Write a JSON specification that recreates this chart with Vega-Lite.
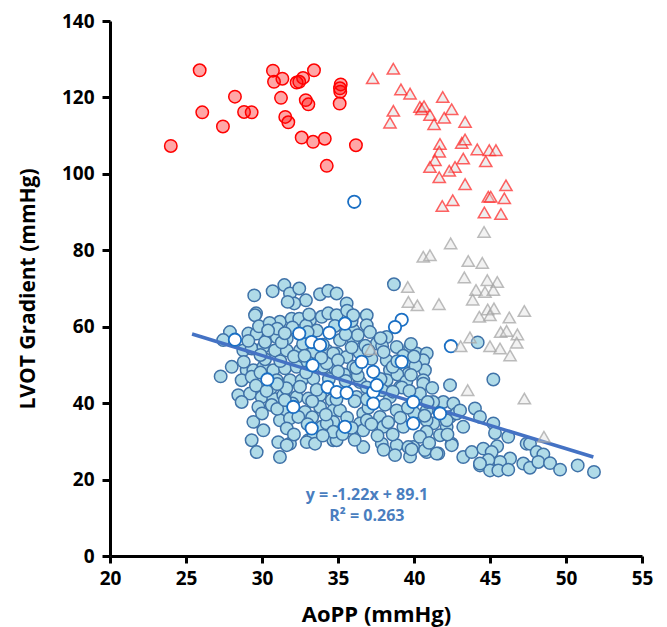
{
"$schema": "https://vega.github.io/schema/vega-lite/v6.json",
"width": 532,
"height": 535,
"autosize": {"type": "none"},
"padding": {"left": 110, "top": 21, "right": 25, "bottom": 71},
"background": "white",
"config": {"view": {"stroke": null}, "font": "Open Sans"},
"datasets": {
"blue": [
{"x":29.49,"y":68.2},{"x":30.70,"y":69.3},{"x":31.47,"y":70.9},{"x":31.84,"y":68.7},{"x":32.45,"y":70.0},{"x":32.89,"y":66.9},{"x":32.12,"y":66.1},{"x":31.69,"y":66.5},{"x":33.82,"y":68.5},{"x":34.36,"y":69.4},{"x":34.91,"y":68.7},
{"x":29.61,"y":63.5},{"x":29.54,"y":63.0},{"x":31.18,"y":61.3},{"x":31.95,"y":62.1},{"x":32.45,"y":62.1},{"x":33.16,"y":61.7},{"x":33.93,"y":62.6},{"x":34.36,"y":63.5},{"x":34.91,"y":63.0},
{"x":27.89,"y":58.6},{"x":27.45,"y":56.5},{"x":29.10,"y":58.2},{"x":29.65,"y":58.2},{"x":30.41,"y":57.3},{"x":30.97,"y":57.3},{"x":31.63,"y":56.9},
{"x":28.77,"y":53.8},{"x":29.32,"y":54.3},{"x":30.09,"y":54.7},{"x":30.86,"y":53.8},{"x":31.63,"y":53.8},{"x":32.50,"y":53.8},{"x":33.38,"y":53.4},{"x":34.26,"y":53.8},{"x":34.91,"y":53.0},
{"x":28.01,"y":49.5},{"x":27.28,"y":47.0},{"x":28.99,"y":48.6},{"x":29.43,"y":48.6},{"x":30.09,"y":49.5},{"x":30.74,"y":48.6},{"x":31.51,"y":49.1},{"x":32.28,"y":49.5},{"x":34.03,"y":49.5},{"x":34.80,"y":49.1},
{"x":28.66,"y":46.0},{"x":29.32,"y":46.9},{"x":30.97,"y":46.0},{"x":31.84,"y":46.0},{"x":32.61,"y":46.0},{"x":33.38,"y":46.4},
{"x":28.44,"y":42.1},{"x":29.21,"y":42.5},{"x":29.98,"y":41.6},{"x":30.74,"y":41.2},{"x":31.40,"y":42.1},{"x":32.28,"y":41.6},{"x":33.05,"y":41.2},{"x":33.82,"y":42.1},{"x":34.59,"y":40.8},
{"x":28.66,"y":40.3},{"x":29.76,"y":39.0},{"x":30.64,"y":39.5},{"x":31.51,"y":37.7},{"x":32.83,"y":37.7},{"x":33.82,"y":39.0},{"x":34.69,"y":38.1},
{"x":29.43,"y":35.1},{"x":30.09,"y":32.9},{"x":31.18,"y":35.5},{"x":31.84,"y":36.0},{"x":32.39,"y":36.4},{"x":33.93,"y":33.8},{"x":34.69,"y":35.1},
{"x":29.32,"y":30.3},{"x":29.65,"y":27.2},{"x":31.07,"y":29.8},{"x":31.18,"y":25.9},{"x":31.84,"y":29.4},{"x":33.05,"y":30.3},{"x":33.38,"y":31.2},{"x":34.69,"y":30.3},
{"x":38.68,"y":71.1},{"x":35.57,"y":66.1},{"x":36.89,"y":63.0},{"x":36.89,"y":60.4},{"x":36.01,"y":59.1},{"x":38.20,"y":57.3},{"x":37.55,"y":55.6},{"x":38.86,"y":54.7},{"x":39.74,"y":54.7},{"x":40.18,"y":53.0},{"x":40.84,"y":53.0},
{"x":36.01,"y":56.5},{"x":35.13,"y":56.5},{"x":34.69,"y":53.0},{"x":35.57,"y":52.1},{"x":38.20,"y":51.2},{"x":39.95,"y":50.4},{"x":40.61,"y":51.2},{"x":40.72,"y":48.6},{"x":36.01,"y":49.5},{"x":34.26,"y":50.4},{"x":38.42,"y":48.6},{"x":39.63,"y":47.7},
{"x":36.45,"y":45.5},{"x":38.20,"y":46.0},{"x":39.08,"y":44.2},{"x":40.61,"y":46.0},{"x":42.37,"y":44.7},{"x":36.22,"y":41.6},{"x":38.42,"y":41.6},{"x":40.39,"y":41.6},{"x":41.93,"y":40.3},{"x":42.59,"y":39.9},
{"x":35.13,"y":38.1},{"x":36.66,"y":37.3},{"x":37.76,"y":36.4},{"x":38.86,"y":38.1},{"x":40.84,"y":38.1},{"x":42.37,"y":36.4},{"x":34.26,"y":34.7},{"x":36.45,"y":34.7},{"x":37.98,"y":33.8},{"x":39.30,"y":33.8},{"x":41.27,"y":34.7},{"x":42.15,"y":33.8},
{"x":34.91,"y":30.3},{"x":36.66,"y":28.5},{"x":37.88,"y":29.4},{"x":38.86,"y":29.0},{"x":39.95,"y":28.5},{"x":40.84,"y":27.2},{"x":41.60,"y":26.8},{"x":42.48,"y":29.4},{"x":38.75,"y":26.4},{"x":39.74,"y":26.0},
{"x":44.19,"y":55.9},{"x":45.22,"y":46.2},{"x":40.61,"y":45.1},{"x":40.39,"y":42.5},{"x":42.81,"y":37.3},{"x":44.01,"y":38.6},{"x":44.34,"y":36.4},{"x":45.22,"y":34.7},{"x":46.20,"y":31.2},{"x":47.41,"y":29.4},{"x":43.24,"y":33.8},{"x":42.15,"y":35.5},
{"x":41.26,"y":40.3},{"x":43.03,"y":38.1},{"x":40.83,"y":35.5},{"x":40.83,"y":32.5},{"x":41.71,"y":31.6},{"x":42.48,"y":29.0},{"x":40.72,"y":27.7},{"x":41.49,"y":26.8},{"x":43.24,"y":25.9},{"x":43.80,"y":27.2},{"x":44.56,"y":28.1},{"x":45.33,"y":32.2},
{"x":45.47,"y":28.7},{"x":45.11,"y":27.2},{"x":46.32,"y":25.5},{"x":45.66,"y":24.6},{"x":44.89,"y":25.1},{"x":44.34,"y":23.7},{"x":45.00,"y":22.4},{"x":45.55,"y":22.4},{"x":46.20,"y":22.6},{"x":47.19,"y":24.2},{"x":47.63,"y":23.1},{"x":47.63,"y":29.4},
{"x":48.07,"y":27.2},{"x":48.51,"y":26.6},{"x":48.18,"y":24.6},{"x":48.95,"y":24.3},{"x":49.61,"y":22.6},{"x":50.77,"y":23.7},{"x":51.84,"y":22.0},
{"x":31.63,"y":33.4},{"x":32.94,"y":29.8},{"x":33.49,"y":29.4},{"x":34.69,"y":32.5},{"x":36.66,"y":32.9},{"x":39.63,"y":28.5},{"x":40.39,"y":31.2},{"x":31.63,"y":29.0},{"x":39.84,"y":27.9},{"x":44.34,"y":24.2},
{"x":29.8,"y":60.1},{"x":30.5,"y":61.0},{"x":31.0,"y":59.5},{"x":32.0,"y":59.8},{"x":32.9,"y":60.3},{"x":33.6,"y":59.0},{"x":34.8,"y":60.2},{"x":35.9,"y":61.5},{"x":36.3,"y":57.8},{"x":37.1,"y":58.6},{"x":37.9,"y":55.0},
{"x":30.2,"y":51.5},{"x":31.2,"y":51.0},{"x":32.1,"y":52.2},{"x":33.0,"y":50.8},{"x":33.9,"y":51.9},{"x":35.0,"y":51.2},{"x":36.4,"y":53.3},{"x":37.2,"y":51.6},{"x":38.0,"y":53.4},{"x":39.3,"y":52.4},{"x":40.1,"y":49.8},
{"x":29.6,"y":44.6},{"x":30.6,"y":44.0},{"x":31.6,"y":43.9},{"x":32.5,"y":44.3},{"x":33.6,"y":43.5},{"x":34.4,"y":46.3},{"x":35.4,"y":47.5},{"x":36.3,"y":47.2},{"x":36.9,"y":44.1},{"x":37.9,"y":43.4},{"x":38.9,"y":47.5},{"x":39.5,"y":45.7},{"x":41.2,"y":44.0},
{"x":30.0,"y":37.3},{"x":31.0,"y":38.5},{"x":32.0,"y":39.9},{"x":33.3,"y":36.3},{"x":34.2,"y":37.0},{"x":35.6,"y":36.2},{"x":36.1,"y":40.5},{"x":37.0,"y":38.8},{"x":38.1,"y":39.6},{"x":39.1,"y":36.2},{"x":40.0,"y":37.5},
{"x":28.8,"y":50.8},{"x":29.1,"y":56.3},{"x":35.5,"y":45.8},{"x":38.6,"y":49.5},{"x":39.8,"y":55.5},{"x":36.8,"y":55.0},{"x":32.7,"y":55.5},{"x":31.3,"y":55.9},{"x":30.2,"y":56.0},{"x":29.9,"y":48.0},{"x":35.6,"y":64.2},{"x":39.2,"y":44.1},{"x":36.9,"y":35.5},{"x":35.3,"y":31.9},{"x":37.6,"y":31.5},{"x":38.6,"y":31.8},
{"x":30.4,"y":59.0},{"x":31.5,"y":58.3},{"x":33.0,"y":58.6},{"x":35.5,"y":58.0},{"x":37.8,"y":57.0},{"x":33.1,"y":63.2},{"x":36.0,"y":63.0},{"x":29.9,"y":52.6},{"x":32.8,"y":52.4},{"x":34.0,"y":55.3},{"x":35.9,"y":54.6},{"x":37.0,"y":53.8},{"x":38.9,"y":51.0},{"x":40.0,"y":52.2},
{"x":31.0,"y":45.0},{"x":32.9,"y":48.0},{"x":35.0,"y":48.3},{"x":36.2,"y":49.2},{"x":37.8,"y":46.3},{"x":39.8,"y":47.4},{"x":30.3,"y":43.2},{"x":33.3,"y":40.5},{"x":34.9,"y":41.0},{"x":36.9,"y":41.0},{"x":38.6,"y":43.0},{"x":39.7,"y":43.2},{"x":40.9,"y":40.3},{"x":31.5,"y":40.8},
{"x":33.0,"y":34.5},{"x":35.9,"y":33.5},{"x":37.2,"y":34.5},{"x":38.3,"y":35.0},{"x":39.6,"y":38.8},{"x":40.7,"y":36.7},{"x":32.1,"y":31.8},{"x":34.0,"y":31.5},{"x":36.1,"y":30.4},{"x":38.0,"y":27.8},{"x":41.0,"y":29.6},{"x":42.2,"y":31.8}
],
"white": [
{"x":36.07,"y":92.7},{"x":39.19,"y":61.8},{"x":38.75,"y":59.9},{"x":42.43,"y":54.9},{"x":28.22,"y":56.6},{"x":32.45,"y":58.2},{"x":33.27,"y":56.0},{"x":33.82,"y":55.2},{"x":34.43,"y":58.4},{"x":33.33,"y":49.9},{"x":30.35,"y":46.2},{"x":34.32,"y":44.2},{"x":34.91,"y":42.9},{"x":32.06,"y":39.0},{"x":33.27,"y":33.4},{"x":35.46,"y":60.8},{"x":36.56,"y":50.8},{"x":39.19,"y":50.8},{"x":37.32,"y":48.2},{"x":35.57,"y":42.7},{"x":37.32,"y":42.9},{"x":37.55,"y":44.7},{"x":37.32,"y":39.9},{"x":39.95,"y":40.3},{"x":41.71,"y":37.3},{"x":39.95,"y":34.7},{"x":35.46,"y":33.8}
],
"redc": [
{"x":25.9,"y":127.1},{"x":24.0,"y":107.3},{"x":26.07,"y":116.1},{"x":27.43,"y":112.4},{"x":28.22,"y":120.2},{"x":28.82,"y":116.2},{"x":29.32,"y":116.1},{"x":30.72,"y":127.0},{"x":30.79,"y":124.1},{"x":31.34,"y":124.9},{"x":31.25,"y":119.9},{"x":31.53,"y":114.9},{"x":31.73,"y":113.5},{"x":32.28,"y":123.9},{"x":32.45,"y":124.1},{"x":32.70,"y":125.1},{"x":33.42,"y":127.1},{"x":32.88,"y":119.3},{"x":33.05,"y":118.2},{"x":32.61,"y":109.5},{"x":33.36,"y":108.4},{"x":34.13,"y":109.2},{"x":34.26,"y":102.1},{"x":35.18,"y":123.4},{"x":35.13,"y":122.4},{"x":35.15,"y":121.5},{"x":35.11,"y":118.4},{"x":36.18,"y":107.5}
],
"redt": [
{"x":37.28,"y":125.0},{"x":38.64,"y":127.5},{"x":39.14,"y":122.1},{"x":39.74,"y":121.0},{"x":38.64,"y":116.5},{"x":38.42,"y":113.4},{"x":41.89,"y":120.1},{"x":40.39,"y":117.5},{"x":40.51,"y":116.9},{"x":40.66,"y":117.7},{"x":41.05,"y":115.4},{"x":41.32,"y":113.0},{"x":41.99,"y":114.7},{"x":42.48,"y":116.9},{"x":43.36,"y":113.6},{"x":41.71,"y":107.8},{"x":41.66,"y":105.8},{"x":41.38,"y":103.6},{"x":41.05,"y":101.8},{"x":43.14,"y":108.1},{"x":43.36,"y":109.0},{"x":43.24,"y":104.0},{"x":44.16,"y":106.4},{"x":44.95,"y":106.2},{"x":45.39,"y":106.2},{"x":44.72,"y":103.3},{"x":42.70,"y":101.8},{"x":42.32,"y":100.8},{"x":41.66,"y":99.1},{"x":43.36,"y":97.3},{"x":42.55,"y":93.1},{"x":41.86,"y":91.6},{"x":44.89,"y":94.0},{"x":45.05,"y":94.0},{"x":46.05,"y":97.0},{"x":45.94,"y":93.6},{"x":44.63,"y":89.9},{"x":45.72,"y":89.5}
],
"grayt": [
{"x":44.61,"y":84.8},{"x":42.41,"y":81.8},{"x":40.61,"y":78.3},{"x":41.05,"y":78.7},{"x":43.57,"y":77.2},{"x":44.49,"y":76.7},{"x":39.59,"y":70.4},{"x":43.31,"y":72.9},{"x":44.82,"y":72.2},{"x":45.48,"y":71.7},{"x":44.08,"y":69.6},{"x":44.67,"y":69.1},{"x":45.22,"y":69.6},{"x":43.86,"y":67.1},{"x":39.63,"y":66.5},{"x":40.22,"y":65.6},{"x":41.64,"y":65.9},{"x":44.85,"y":64.5},{"x":45.26,"y":64.8},{"x":44.30,"y":62.6},{"x":45.0,"y":63.0},{"x":46.27,"y":62.4},{"x":47.26,"y":64.1},{"x":45.70,"y":58.6},{"x":46.09,"y":58.9},{"x":46.80,"y":58.0},{"x":43.68,"y":57.2},{"x":43.07,"y":54.9},{"x":45.0,"y":54.9},{"x":45.66,"y":54.3},{"x":46.76,"y":55.8},{"x":46.32,"y":52.5},{"x":43.53,"y":43.4},{"x":47.26,"y":41.2},{"x":37.15,"y":54.1},{"x":48.55,"y":31.2}
],
"fit": [{"x":25.4,"y":58.1},{"x":51.8,"y":25.9}],
"label": [{"x":36.9,"y":15.9,"t":"y = -1.22x + 89.1"},{"x":36.9,"y":10.4,"t":"R² = 0.263"}]
},
"encoding": {
"x": {"field": "x", "type": "quantitative",
 "scale": {"domain": [20, 55], "nice": false, "zero": false},
 "axis": {"title": "AoPP (mmHg)", "values": [20,25,30,35,40,45,50,55], "grid": false,
  "domainColor": "black", "domainWidth": 3, "tickColor": "black", "tickWidth": 3, "tickSize": 7,
  "labelFont": "Open Sans", "labelFontSize": 19, "labelFontWeight": "bold", "labelColor": "black", "labelPadding": 6, "labelFlush": false,
  "titleFont": "Open Sans", "titleFontSize": 22, "titleFontWeight": "bold", "titleColor": "black", "titlePadding": 16}},
"y": {"field": "y", "type": "quantitative",
 "scale": {"domain": [0, 140], "nice": false, "zero": false},
 "axis": {"title": "LVOT Gradient (mmHg)", "values": [0,20,40,60,80,100,120,140], "grid": false,
  "domainColor": "black", "domainWidth": 3, "tickColor": "black", "tickWidth": 3, "tickSize": 8,
  "labelFont": "Open Sans", "labelFontSize": 19, "labelFontWeight": "bold", "labelColor": "black", "labelPadding": 8, "labelFlush": false,
  "titleFont": "Open Sans", "titleFontSize": 21, "titleFontWeight": "bold", "titleColor": "black", "titlePadding": 23}}
},
"layer": [
{"data": {"name": "blue"}, "mark": {"type": "point", "shape": "circle", "filled": true, "size": 155, "fill": "#b0dbe8", "fillOpacity": 1, "stroke": "#3f72a8", "strokeWidth": 1.5, "opacity": 1}},
{"data": {"name": "fit"}, "mark": {"type": "line", "color": "#4472c4", "strokeWidth": 3.5}},
{"data": {"name": "white"}, "mark": {"type": "point", "shape": "circle", "filled": true, "size": 155, "fill": "white", "fillOpacity": 1, "stroke": "#1a6fc4", "strokeWidth": 1.8, "opacity": 1}},
{"data": {"name": "redc"}, "mark": {"type": "point", "shape": "circle", "filled": true, "size": 155, "fill": "#ff0000", "fillOpacity": 0.35, "stroke": "#ff0000", "strokeWidth": 1.5, "opacity": 1}},
{"data": {"name": "grayt"}, "mark": {"type": "point", "shape": "triangle-up", "filled": true, "size": 150, "fill": "#d9d9d9", "fillOpacity": 0.35, "stroke": "#a6a6a6", "strokeOpacity": 0.75, "strokeWidth": 1.5, "opacity": 1}},
{"data": {"name": "redt"}, "mark": {"type": "point", "shape": "triangle-up", "filled": true, "size": 150, "fill": "#d9d9d9", "fillOpacity": 0.45, "stroke": "#ff2020", "strokeOpacity": 0.7, "strokeWidth": 1.5, "opacity": 1}},
{"data": {"name": "label"}, "mark": {"type": "text", "font": "Open Sans", "fontSize": 16, "fontWeight": "bold", "color": "#4a7ebf", "align": "center", "baseline": "middle"}, "encoding": {"text": {"field": "t", "type": "nominal"}}}
]
}
